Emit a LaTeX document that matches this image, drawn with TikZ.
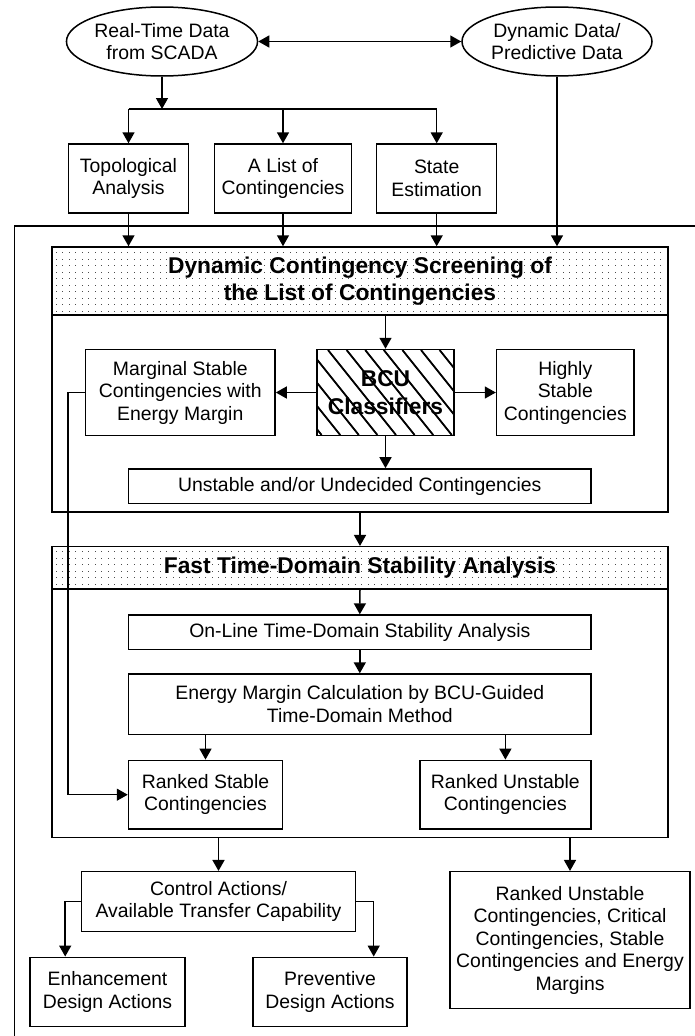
\documentclass[tikz,border=0pt]{standalone}
\usepackage{fontspec}
\setmainfont{Liberation Sans}
\usetikzlibrary{arrows.meta,shapes.geometric,calc}
\newcommand\txtfont{\fontsize{19.4}{22.5}\selectfont}
\newcommand\hdfont{\fontsize{22.8}{27.3}\selectfont\bfseries}
\begin{document}
\begin{tikzpicture}[x=1pt,y=-1pt,
  bx/.style={draw,line width=1.5pt,rectangle,inner sep=0pt,align=center,font=\txtfont},
  el/.style={draw,line width=1.5pt,ellipse,inner sep=0pt,align=center,font=\txtfont},
  hd/.style={bx,font=\hdfont},
  arr/.style={line width=1.5pt,-{Triangle[length=11pt,width=12pt]}},
  darr/.style={line width=1.5pt,{Triangle[length=11pt,width=12pt]}-{Triangle[length=11pt,width=12pt]}},
  ln/.style={line width=1.5pt},
  frame/.style={line width=1.1pt},
  dotc/.style={fill=black!70},
  hatch/.style={line width=1.8pt},
  sz/.style 2 args={minimum width=#1pt,minimum height=#2pt}]
\useasboundingbox (0,0) rectangle (695,1036);

% dotted header backgrounds
\foreach \y in {252,258.5,...,312} {\foreach \x in {55.5,62,...,666} {\fill[dotc] (\x,\y) rectangle ++(1.2,1.2);}}
\foreach \y in {551,557.5,...,586} {\foreach \x in {55.5,62,...,666} {\fill[dotc] (\x,\y) rectangle ++(1.2,1.2);}}

% hatch of BCU box
\begin{scope}
\clip (317,350) rectangle (454,435);
\foreach \k in {-5,...,7} {\draw[hatch] (328+\k*18.6,350) -- ++(68,85);}
\end{scope}

% outer frame
\coordinate (ftl) at (14.6,226);
\coordinate (ftr) at (695,226);
\coordinate (fbl) at (14.6,1036);
\draw[frame] (ftr) -- (ftl) -- (fbl);

% top
\node[el,sz={190}{69}] (e1) at (162,41.5) {Real-Time Data\\from SCADA};
\node[el,sz={190}{69}] (e2) at (557,41.5) {Dynamic Data/\\Predictive Data};
\node[bx,sz={120}{68.7}] (b1) at (128.5,178.4) {Topological\\Analysis};
\node[bx,sz={137}{68.7}] (b2) at (283,178.4) {A List of\\Contingencies};
\node[bx,sz={120}{68.7}] (b3) at (436.7,178.4) {State\\Estimation};
\coordinate (jn) at (162,109);

% screening box
\node[bx,sz={616}{265}] (box1) at (360,379.5) {};
\node[hd,sz={616}{68}] (h1) at (360,281) {Dynamic Contingency Screening of\\the List of Contingencies};
\node[bx,font=\hdfont,sz={137}{86}] (bcu) at (385.5,392.5) {BCU\\Classifiers};
\node[bx,sz={189.5}{86}] (marg) at (180.3,392.5) {Marginal Stable\\Contingencies with\\Energy Margin};
\node[bx,sz={137.5}{86}] (high) at (565.3,392.5) {Highly\\Stable\\Contingencies};
\node[bx,sz={462.5}{34.5}] (uns) at (359.8,486.2) {Unstable and/or Undecided Contingencies};

% fast time-domain box
\node[bx,sz={616}{290.6}] (box2) at (360,692) {};
\node[hd,sz={616}{42.3}] (h2) at (360,567.85) {Fast Time-Domain Stability Analysis};
\node[bx,sz={462.5}{34.3}] (onl) at (359.8,632.2) {On-Line Time-Domain Stability Analysis};
\node[bx,sz={462.5}{60.3}] (en) at (359.8,704.2) {Energy Margin Calculation by BCU-Guided\\Time-Domain Method};
\node[bx,sz={154}{68.7}] (rs) at (205.5,794.7) {Ranked Stable\\Contingencies};
\node[bx,sz={171}{68.7}] (ru) at (505.4,794.7) {Ranked Unstable\\Contingencies};

% bottom
\node[bx,sz={274}{60}] (ctrl) at (218.5,901.7) {Control Actions/\\Available Transfer Capability};
\node[bx,sz={240}{136.6}] (fin) at (570,940) {Ranked Unstable\\Contingencies, Critical\\Contingencies, Stable\\Contingencies and Energy\\Margins};
\node[bx,sz={154.7}{69.4}] (enh) at (107.5,992) {Enhancement\\Design Actions};
\node[bx,sz={154}{69.4}] (prev) at (330,992) {Preventive\\Design Actions};

% connectors
\draw[darr] (e1.east) -- (e2.west);
\draw[arr] (e1.south) -- (e1.south |- jn);
\draw[ln] (b1.north |- jn) -- (b3.north |- jn);
\draw[arr] (b1.north |- jn) -- (b1.north);
\draw[arr] (b2.north |- jn) -- (b2.north);
\draw[arr] (b3.north |- jn) -- (b3.north);
\draw[arr] (b1.south) -- (b1.south |- h1.north);
\draw[arr] (b2.south) -- (b2.south |- h1.north);
\draw[arr] (b3.south) -- (b3.south |- h1.north);
\draw[arr] (e2.south) -- (e2.south |- h1.north);
\draw[arr] (bcu.north |- h1.south) -- (bcu.north);
\draw[arr] (bcu.west) -- (marg.east);
\draw[arr] (bcu.east) -- (high.west);
\draw[arr] (bcu.south) -- (bcu.south |- uns.north);
\draw[arr] (box1.south) -- (h2.north);
\draw[arr] (h2.south) -- (onl.north);
\draw[arr] (onl.south) -- (en.north);
\draw[arr] (rs.north |- en.south) -- (rs.north);
\draw[arr] (ru.north |- en.south) -- (ru.north);
\draw[arr] (marg.west) -- ++(-16.8,0) |- (rs.west);
\draw[arr] (ctrl.north |- box2.south) -- (ctrl.north);
\draw[arr] (fin.north |- box2.south) -- (fin.north);
\draw[arr] (ctrl.west) -| ([xshift=-42.3pt]enh.north);
\draw[arr] (ctrl.east) -| ([xshift=43.7pt]prev.north);
\end{tikzpicture}
\end{document}
